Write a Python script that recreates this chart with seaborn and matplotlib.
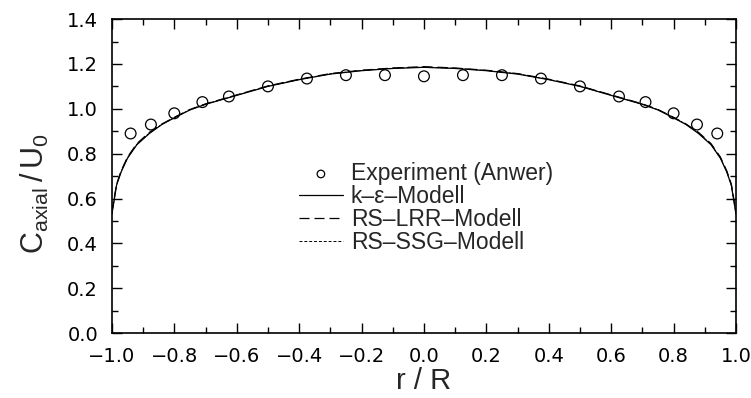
import matplotlib
matplotlib.use("Agg")
import matplotlib.pyplot as plt
import numpy as np
import pandas as pd
import seaborn as sns
from matplotlib.ticker import MultipleLocator, FuncFormatter

# experiment (Anwer)
exp_r = [-0.94, -0.875, -0.80, -0.71, -0.625, -0.50, -0.375, -0.25, -0.125, 0.0,
         0.125, 0.25, 0.375, 0.50, 0.625, 0.71, 0.80, 0.875, 0.94]
exp_u = [0.89, 0.93, 0.98, 1.03, 1.055, 1.10, 1.135, 1.15, 1.15, 1.145,
         1.15, 1.15, 1.135, 1.10, 1.055, 1.03, 0.98, 0.93, 0.89]

# model profiles
mod_r = [-1.0, -0.985, -0.97, -0.95, -0.92, -0.88, -0.84, -0.80, -0.75, -0.70, -0.60,
         -0.50, -0.40, -0.30, -0.20, -0.10, 0.0, 0.10, 0.20, 0.30, 0.40, 0.50,
         0.60, 0.70, 0.75, 0.80, 0.84, 0.88, 0.92, 0.95, 0.97, 0.985, 1.0]
ke_u = [0.53, 0.66, 0.72, 0.78, 0.84, 0.89, 0.93, 0.96, 0.995, 1.02, 1.06,
        1.10, 1.13, 1.155, 1.17, 1.18, 1.185, 1.18, 1.17, 1.155, 1.13, 1.10,
        1.06, 1.02, 0.995, 0.96, 0.93, 0.89, 0.84, 0.78, 0.72, 0.66, 0.53]
lrr_u = [0.54, 0.665, 0.725, 0.785, 0.845, 0.895, 0.932, 0.962, 0.997, 1.022, 1.062,
         1.102, 1.132, 1.157, 1.172, 1.182, 1.188, 1.182, 1.172, 1.157, 1.132, 1.102,
         1.062, 1.022, 0.997, 0.962, 0.932, 0.895, 0.845, 0.785, 0.725, 0.665, 0.54]
ssg_u = [0.535, 0.662, 0.722, 0.782, 0.842, 0.892, 0.931, 0.961, 0.996, 1.021, 1.061,
         1.101, 1.131, 1.156, 1.171, 1.181, 1.186, 1.181, 1.171, 1.156, 1.131, 1.101,
         1.061, 1.021, 0.996, 0.961, 0.931, 0.892, 0.842, 0.782, 0.722, 0.662, 0.535]

sns.set_theme(style="ticks")
plt.rcParams["font.family"] = ["Liberation Sans", "DejaVu Sans"]
plt.rcParams["mathtext.fontset"] = "custom"
plt.rcParams["mathtext.rm"] = "Liberation Sans"

fig = plt.figure(figsize=(7.51, 3.98), dpi=100)
ax = fig.add_axes([0.149, 0.163, 0.831, 0.789])

models = pd.DataFrame({"r": mod_r, "ke": ke_u, "lrr": lrr_u, "ssg": ssg_u})
exp = pd.DataFrame({"r": exp_r, "u": exp_u})

sns.scatterplot(data=exp, x="r", y="u", ax=ax, marker="o", s=60,
                facecolors="none", edgecolor="black", linewidth=0.9,
                label="Experiment (Anwer)")
sns.lineplot(data=models, x="r", y="ke", ax=ax, color="black", lw=0.9,
             label="k\u2013\u03b5\u2013Modell")
sns.lineplot(data=models, x="r", y="lrr", ax=ax, color="black", lw=0.9,
             dashes=(8, 4), label="RS\u2013LRR\u2013Modell")
sns.lineplot(data=models, x="r", y="ssg", ax=ax, color="black", lw=0.7,
             dashes=(3, 2), label="RS\u2013SSG\u2013Modell")

ax.set_xlim(-1.0, 1.0)
ax.set_ylim(0.0, 1.4)
ax.xaxis.set_major_locator(MultipleLocator(0.2))
ax.xaxis.set_minor_locator(MultipleLocator(0.1))
ax.yaxis.set_major_locator(MultipleLocator(0.2))
ax.yaxis.set_minor_locator(MultipleLocator(0.1))
ax.xaxis.set_major_formatter(FuncFormatter(lambda v, p: f"{v:.1f}".replace("-", "\u2212")))
ax.yaxis.set_major_formatter(FuncFormatter(lambda v, p: f"{v:.1f}"))
ax.tick_params(which="both", direction="in", top=True, right=True,
               labelsize=14, color="black", labelcolor="black", pad=10)
ax.tick_params(which="major", length=7, width=1)
ax.tick_params(which="minor", length=4, width=1)
for lab in ax.get_xticklabels() + ax.get_yticklabels():
    lab.set_fontfamily("DejaVu Sans")
for s in ax.spines.values():
    s.set_linewidth(1.2)
    s.set_color("black")

ax.set_xlabel("r / R", fontsize=21, labelpad=1)
ax.set_ylabel(r"$\mathrm{C_{axial}\,/\,U_0}$", fontsize=22)
ax.yaxis.set_label_coords(-0.097, 0.446)

leg = ax.legend(loc="upper left", bbox_to_anchor=(0.30, 0.545), frameon=False,
                fontsize=16.5, handlelength=1.9, labelspacing=0.0,
                handletextpad=0.35, borderaxespad=0, borderpad=0, markerscale=0.7)
fig.savefig("out.png", dpi=100)
